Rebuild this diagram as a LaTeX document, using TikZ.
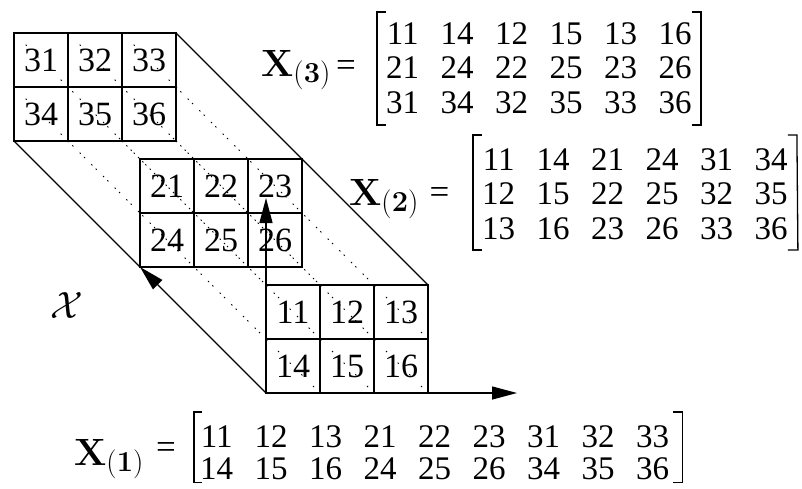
\RequirePackage{fix-cm}
\documentclass[tikz,border=0pt]{standalone}
\usepackage[no-math]{fontspec}
\setmainfont{Liberation Serif}
\usetikzlibrary{arrows.meta,matrix}
\newcommand{\subsc}[1]{\raisebox{-6pt}{\fontsize{29}{30}\selectfont$(\mathbf{#1})$}}
\tikzset{
  cellnum/.style={inner sep=0pt, font=\fontsize{34}{38}\selectfont},
  gridline/.style={line width=1.4pt},
  hidden/.style={line width=0.9pt, dash pattern=on 1.5pt off 15pt},
  axisarrow/.style={line width=1.4pt, -{Triangle[length=25pt,width=13pt]}},
  brk/.style={line width=1.3pt},
  mat/.style={matrix of nodes, inner sep=0pt, column sep=21.5pt, row sep=12.5pt,
    nodes={inner sep=0pt, font=\fontsize{33}{36}\selectfont}},
  lbl/.style={inner sep=0pt, font=\fontsize{38}{44}\selectfont},
  eqs/.style={inner sep=0pt, font=\fontsize{35}{38}\selectfont},
}
\begin{document}
\begin{tikzpicture}[x=1pt,y=-1pt]
\useasboundingbox (0,0) rectangle (802,489);

% hidden (dotted) edges
\foreach \i in {0,...,3}{
  \foreach \j in {0,1,2}{
    \pgfmathtruncatemacro\k{10*\i+\j}
    \ifnum\k=30 \else\ifnum\k=2 \else
      \draw[hidden] (14+54*\i,33+54*\j) -- ++(252,252);
    \fi\fi
  }
}

% slices
\foreach \ox/\oy/\s in {14/33/3, 140/159/2, 266/285/1}{
  \draw[gridline] (\ox,\oy) rectangle ++(162,108);
  \draw[gridline] (\ox,\oy+54) -- ++(162,0);
  \draw[gridline] (\ox+54,\oy) -- ++(0,108);
  \draw[gridline] (\ox+108,\oy) -- ++(0,108);
  \foreach \c [evaluate=\c as \d using int(\c+3)] in {1,2,3}{
    \node[cellnum] (n\s\c) at (\ox+54*\c-27,\oy+27) {\s\c};
    \node[cellnum] (n\s\d) at (\ox+54*\c-27,\oy+81) {\s\d};
  }
}

% outer edges and axes
\coordinate (Btr) at (176,33);
\coordinate (Ftr) at (428,285);
\coordinate (Bbl) at (14,141);
\coordinate (Mbl) at (140,267);
\coordinate (Fbl) at (266,393);
\coordinate (tipV) at (266,198);
\coordinate (tipH) at (517,393);
\draw[gridline] (Btr) -- (Ftr);
\draw[gridline] (Bbl) -- (Mbl);
\draw[axisarrow] (Fbl) -- (Mbl);
\draw[axisarrow] (Fbl) -- (tipV);
\draw[axisarrow] (Fbl) -- (tipH);

\node[lbl] (calx) at (67,306) {$\mathcal{X}$};

% X(3)
\node[lbl, anchor=base west] (x3) at (261,77) {$\mathbf{X}$\subsc{3}};
\node[eqs] (e3) at (346,68.5) {=};
\matrix (m3) [mat, anchor=north west] at (386,22) {
11 & 14 & 12 & 15 & 13 & 16\\
21 & 24 & 22 & 25 & 23 & 26\\
31 & 34 & 32 & 35 & 33 & 36\\
};
\draw[brk] ([xshift=0pt,yshift=10pt]m3.north west) -- ++(-9pt,0)
  -- ([xshift=-9pt,yshift=-11pt]m3.south west) -- ++(9pt,0);
\draw[brk] ([xshift=0pt,yshift=10pt]m3.north east) -- ++(9pt,0)
  -- ([xshift=9pt,yshift=-11pt]m3.south east) -- ++(-9pt,0);

% X(2)
\node[lbl, anchor=base west] (x2) at (349,205) {$\mathbf{X}$\subsc{2}\,};
\node[eqs] (e2) at (439.5,196) {=};
\matrix (m2) [mat, anchor=north west] at (482,148) {
11 & 14 & 21 & 24 & 31 & 34\\
12 & 15 & 22 & 25 & 32 & 35\\
13 & 16 & 23 & 26 & 33 & 36\\
};
\draw[brk] ([xshift=0pt,yshift=13pt]m2.north west) -- ++(-9pt,0)
  -- ([xshift=-9pt,yshift=-10pt]m2.south west) -- ++(9pt,0);
\draw[brk] ([xshift=0pt,yshift=13pt]m2.north east) -- ++(9pt,0)
  -- ([xshift=10pt,yshift=-10pt]m2.south east) -- ++(-10pt,0);

% X(1)
\node[lbl, anchor=base west] (x1) at (74,465) {$\mathbf{X}$\subsc{1}};
\node[eqs] (e1) at (166,450) {=};
\matrix (m1) [mat, row sep=10.5pt, anchor=north west] at (200,425) {
11 & 12 & 13 & 21 & 22 & 23 & 31 & 32 & 33\\
14 & 15 & 16 & 24 & 25 & 26 & 34 & 35 & 36\\
};
\draw[brk] ([xshift=2pt,yshift=13pt]m1.north west) -- ++(-8pt,0)
  -- ([xshift=-6pt,yshift=-2pt]m1.south west) -- ++(8pt,0);
\draw[brk] ([xshift=4pt,yshift=13pt]m1.north east) -- ++(9pt,0)
  -- ([xshift=13pt,yshift=-2pt]m1.south east) -- ++(-9pt,0);
\end{tikzpicture}
\end{document}
